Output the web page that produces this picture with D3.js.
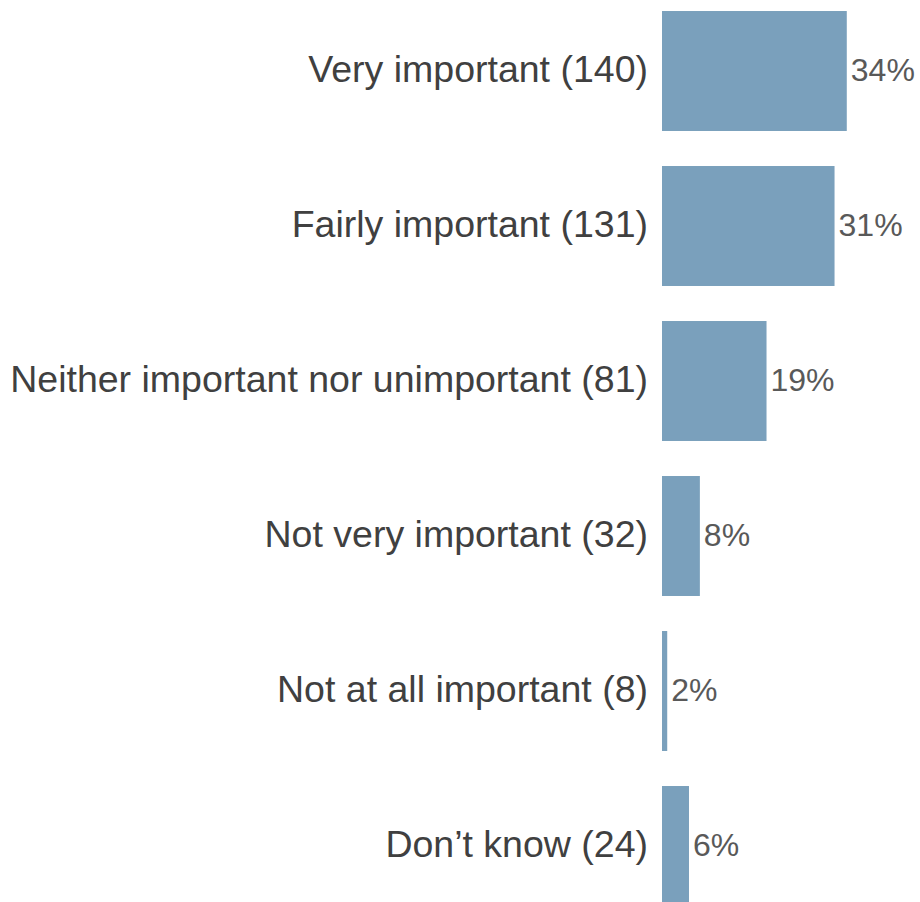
<!DOCTYPE html>
<html>
<head>
<meta charset="utf-8">
<script src="https://cdn.jsdelivr.net/npm/d3@7"></script>
<style>
  html, body { margin: 0; padding: 0; background: #ffffff; }
  svg { display: block; }
</style>
</head>
<body>
<script>
// Data
const categories = [
  "Very important",
  "Fairly important",
  "Neither important nor unimportant",
  "Not very important",
  "Not at all important",
  "Don\u2019t know"
];
const counts = [140, 131, 81, 32, 8, 24];

const total = d3.sum(counts);
const data = categories.map((c, i) => ({
  category: c,
  count: counts[i],
  share: counts[i] / total
}));

const W = 920, H = 902;
const svg = d3.select("body").append("svg")
  .attr("width", W).attr("height", H);

const x = d3.scaleLinear()
  .domain([0.01, 0.35])
  .range([662, 854.4]);

const y = d3.scaleBand()
  .domain(categories)
  .range([-6.5, 923.5])
  .paddingInner(0.226)
  .paddingOuter(0.113);

const font = "'Liberation Sans', Arial, sans-serif";

svg.append("g").selectAll("rect")
  .data(data)
  .join("rect")
  .attr("x", x(0.01))
  .attr("y", d => y(d.category))
  .attr("width", d => Math.max(0, x(d.share) - x(0.01)))
  .attr("height", y.bandwidth())
  .attr("fill", "#7aa0bc");

// Category labels
svg.append("g").selectAll("text")
  .data(data)
  .join("text")
  .attr("x", 648)
  .attr("y", d => y(d.category) + y.bandwidth() / 2 + 10.5)
  .attr("text-anchor", "end")
  .attr("font-family", font)
  .attr("font-size", 37.5)
  .attr("fill", "#404040")
  .text(d => `${d.category} (${d.count})`);

// Percentage labels
svg.append("g").selectAll("text")
  .data(data)
  .join("text")
  .attr("x", d => x(d.share) + 4)
  .attr("y", d => y(d.category) + y.bandwidth() / 2 + 10)
  .attr("text-anchor", "start")
  .attr("font-family", font)
  .attr("font-size", 32)
  .attr("fill", "#595959")
  .text(d => `${Math.round(d.share * 100)}%`);
</script>
</body>
</html>
